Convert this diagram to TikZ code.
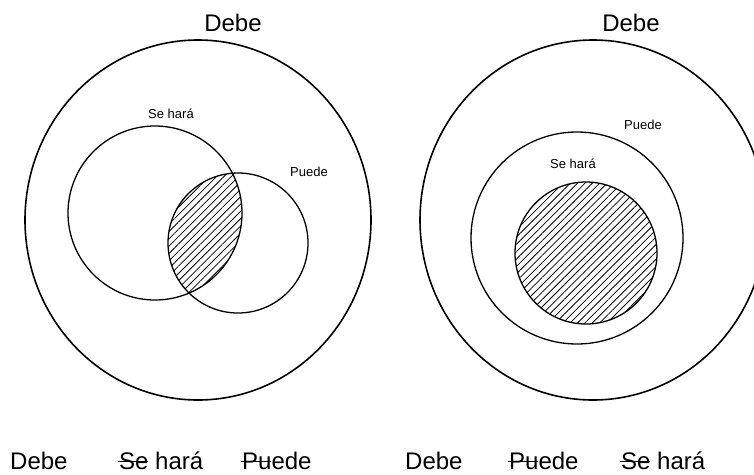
\documentclass[tikz,border=0pt]{standalone}
\usepackage{fontspec}
\setmainfont{Liberation Sans}
\usetikzlibrary{patterns.meta}
% struck-out word (line runs through the letters)
\newcommand\tachado[1]{\leavevmode\setbox0\hbox{#1}%
  \rlap{\kern-1.5pt\rule[0.3em]{\dimexpr\wd0+0.5pt\relax}{1pt}}#1}
\tikzset{
  big set/.style={draw, line width=1.6pt},
  small set/.style={draw, line width=1.3pt},
  hatch/.style={pattern={Lines[angle=45, distance=5.2pt, line width=0.8pt]}},
  set name/.style={font=\fontsize{24}{28}\selectfont, inner sep=0pt},
  sub name/.style={font=\fontsize{13}{15}\selectfont, inner sep=0pt},
}
\begin{document}
\begin{tikzpicture}[x=1pt, y=-1pt]
  \useasboundingbox (0,0) rectangle (754,474);
  \clip (0,0) rectangle (754,474);

  % left diagram: Se hara and Puede overlap
  \coordinate (debeL) at (198,220);
  \coordinate (seharaL) at (155,213);
  \coordinate (puedeL) at (238,243);
  \begin{scope}
    \clip (seharaL) circle (87);
    \fill[hatch] (puedeL) circle (70);
  \end{scope}
  \draw[big set] (debeL) ellipse (173 and 180);
  \draw[small set] (seharaL) circle (87);
  \draw[small set] (puedeL) circle (70);
  \node[set name] (tDebeL) at (233,23) {Debe};
  \node[sub name] (tSeharaL) at (171,114) {Se hará};
  \node[sub name] (tPuedeL) at (309,172) {Puede};

  % right diagram: Se hara inside Puede
  \coordinate (debeR) at (593,220);
  \coordinate (puedeR) at (577,238);
  \coordinate (seharaR) at (586,253);
  \fill[hatch] (seharaR) circle (71);
  \draw[big set] (debeR) ellipse (173 and 180);
  \draw[small set] (puedeR) circle (106);
  \draw[small set] (seharaR) circle (71);
  \node[set name] (tDebeR) at (631,23) {Debe};
  \node[sub name] (tPuedeR) at (643,125) {Puede};
  \node[sub name] (tSeharaR) at (573,164) {Se hará};

  % bottom rows
  \node[set name, anchor=base west] (bDebeL) at (10,469) {Debe};
  \node[set name, anchor=base west] (bSeharaL) at (119,469) {\tachado{Se} hará};
  \node[set name, anchor=base west] (bPuedeL) at (242,469) {\tachado{Pu}ede};
  \node[set name, anchor=base west] (bDebeR) at (405,469) {Debe};
  \node[set name, anchor=base west] (bPuedeR) at (509,469) {\tachado{Pu}ede};
  \node[set name, anchor=base west] (bSeharaR) at (621,469) {\tachado{Se} hará};
\end{tikzpicture}
\end{document}
